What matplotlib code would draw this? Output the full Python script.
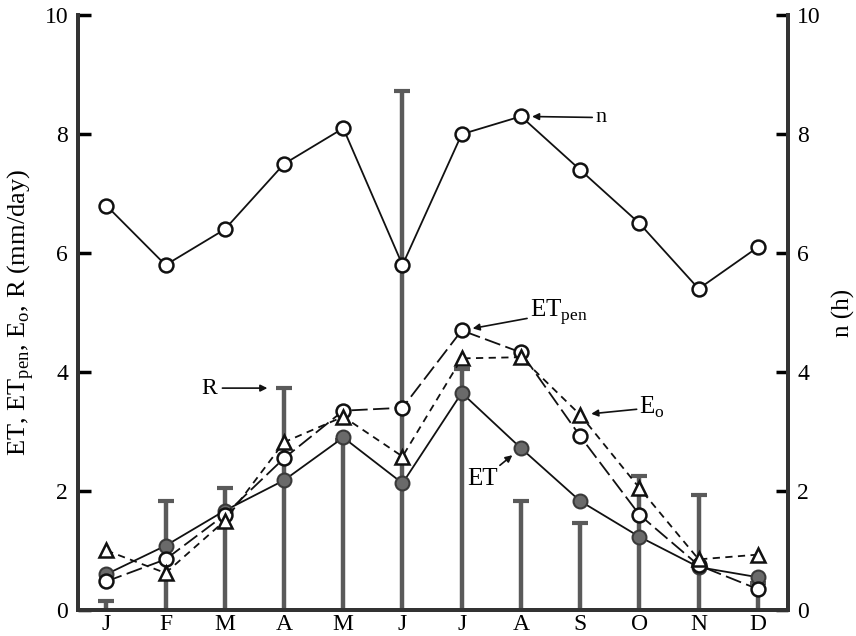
import matplotlib
matplotlib.use("Agg")
import matplotlib.pyplot as plt

plt.rcParams['font.family'] = ['Liberation Serif', 'DejaVu Serif']
plt.rcParams['mathtext.fontset'] = 'custom'
plt.rcParams['mathtext.rm'] = 'Liberation Serif'

months = ['J', 'F', 'M', 'A', 'M', 'J', 'J', 'A', 'S', 'O', 'N', 'D']
x = list(range(1, 13))

# Monthly rainfall R (mm/day)
rain = [0.15, 1.83, 2.05, 3.73, 2.85, 8.72, 4.05, 1.83, 1.47, 2.25, 1.93, 0.45]
# Actual evapotranspiration ET (mm/day)
et = [0.60, 1.08, 1.67, 2.18, 2.90, 2.13, 3.65, 2.72, 1.83, 1.23, 0.72, 0.55]
# Penman potential evapotranspiration ET_pen (mm/day)
et_pen = [0.48, 0.85, 1.60, 2.55, 3.35, 3.40, 4.70, 4.33, 2.92, 1.60, 0.75, 0.35]
# Pan evaporation E_o (mm/day)
eo = [1.00, 0.62, 1.50, 2.82, 3.25, 2.58, 4.23, 4.25, 3.28, 2.05, 0.85, 0.93]
# Sunshine duration n (h)
sun = [6.8, 5.8, 6.4, 7.5, 8.1, 5.8, 8.0, 8.3, 7.4, 6.5, 5.4, 6.1]

fig = plt.figure(figsize=(8.56, 6.36), dpi=100)
ax = fig.add_axes([0.091, 0.041, 0.829, 0.935])
ax.set_xlim(0.52, 12.5)
ax.set_ylim(0, 10)

bar_col = '#5a5a5a'
ax.vlines(x, 0, rain, colors=bar_col, lw=3.2, zorder=1)
ax.plot(x, rain, ls='none', marker='_', ms=11, mew=3, color=bar_col, zorder=1)

ax.plot(x, et, '-', color='#111111', lw=1.3, marker='o', ms=10,
        mfc='#6a6a6a', mec='#3a3a3a', mew=1.5, zorder=3)
ax.plot(x, et_pen, color='#111111', lw=1.3, ls=(0, (9, 3)), marker='o', ms=10,
        mfc='white', mec='#111111', mew=1.8, zorder=4)
ax.plot(x, eo, color='#111111', lw=1.3, ls=(0, (4, 3)), marker='^', ms=10,
        mfc='white', mec='#111111', mew=1.8, zorder=4)

ax2 = ax.twinx()
ax2.set_ylim(0, 10)
ax2.plot(x, sun, '-', color='#111111', lw=1.3, marker='o', ms=10,
         mfc='white', mec='#111111', mew=1.8, zorder=4)

for a in (ax, ax2):
    a.spines['top'].set_visible(False)
    for s in ('left', 'right', 'bottom'):
        a.spines[s].set_linewidth(2.8)
        a.spines[s].set_color('#333333')
ax.set_xticks(x)
ax.set_xticklabels(months, fontsize=17)
ax.tick_params(axis='x', length=0, pad=3)
ax.set_yticks([0, 2, 4, 6, 8, 10])
ax.tick_params(axis='y', direction='in', length=9, width=2.5, labelsize=17, pad=7)
ax2.set_yticks([0, 2, 4, 6, 8, 10])
ax2.tick_params(axis='y', direction='in', length=9, width=2.5, labelsize=17, pad=7)

ax.set_ylabel(r'ET, ET$_{\rm pen}$, E$_{\rm o}$, R (mm/day)', fontsize=19, labelpad=6)
ax2.set_ylabel('n (h)', fontsize=18, labelpad=8)

arrow = dict(arrowstyle='-|>', color='#111111', lw=1.2, mutation_scale=10,
             shrinkA=0, shrinkB=8)
ax2.annotate('n', xy=(x[7], sun[7]), xytext=(9.25, sun[7] - 0.02),
             fontsize=16, va='center', arrowprops=arrow)
ax.annotate(r'ET$_{\rm pen}$', xy=(x[6], et_pen[6]), xytext=(8.15, 5.0),
            fontsize=18, va='center', arrowprops=arrow)
ax.annotate(r'E$_{\rm o}$', xy=(x[8], eo[8]), xytext=(10.0, 3.4),
            fontsize=18, va='center', arrowprops=arrow)
ax.annotate('R', xy=(x[3], rain[3]), xytext=(2.6, rain[3]),
            fontsize=17, va='center', arrowprops=dict(arrowstyle='-|>', color='#111111',
            lw=1.2, mutation_scale=10, shrinkA=2, shrinkB=12))
ax.annotate('ET', xy=(x[7], et[7]), xytext=(7.1, 2.2),
            fontsize=18, va='center', arrowprops=arrow)

fig.savefig('out.png', dpi=100)
